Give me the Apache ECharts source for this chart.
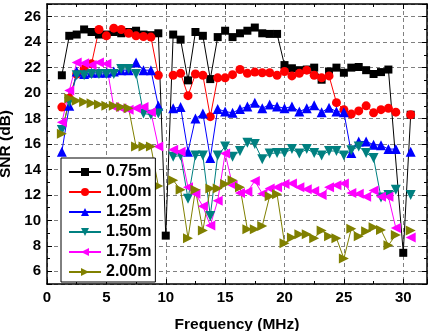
<!DOCTYPE html>
<html><head><meta charset="utf-8">
<script src="https://cdn.jsdelivr.net/npm/echarts@6/dist/echarts.min.js"></script>
<style>html,body{margin:0;padding:0;background:#fff}#c{width:429px;height:331px}</style>
</head><body><div id="c"></div>
<script>
// Frequency points (MHz)
const freq = [1.25,1.875,2.5,3.125,3.75,4.375,5,5.625,6.25,6.875,7.5,8.125,8.75,9.375,10,10.625,
  11.25,11.875,12.5,13.125,13.75,14.375,15,15.625,16.25,16.875,17.5,18.125,18.75,19.375,20,20.625,
  21.25,21.875,22.5,23.125,23.75,24.375,25,25.625,26.25,26.875,27.5,28.125,28.75,29.375,30,30.625];

// SNR (dB) per distance; null = no point
const s075 = [21.4,24.5,24.6,25.0,24.8,24.6,24.6,24.8,24.7,24.8,24.9,24.6,24.55,24.7,8.8,24.6,
  24.2,21.0,24.8,24.5,21.1,24.4,24.9,24.4,24.7,24.9,25.15,24.7,24.65,24.65,22.2,21.95,
  21.8,21.85,22.0,21.05,21.7,22.0,21.6,22.0,22.05,21.8,21.5,21.65,21.85,null,7.45,18.3];
const s100 = [18.9,19.6,21.5,21.9,22.3,25.0,24.5,25.1,25.0,24.7,24.5,24.45,24.4,21.4,null,21.4,
  21.55,19.8,21.5,21.4,18.15,21.2,21.2,21.45,21.85,21.55,21.65,21.6,21.6,21.4,21.7,21.35,
  21.55,21.8,21.4,21.2,21.35,19.25,18.7,18.35,18.6,19.0,18.45,18.7,18.8,18.5,null,18.3];
const s125 = [15.4,19.0,21.7,21.5,21.6,21.6,21.6,21.7,21.8,21.8,22.4,21.8,21.8,19.0,null,18.8,
  18.9,15.4,18.0,18.4,14.9,18.75,18.55,18.45,18.75,18.95,19.25,18.8,19.1,18.95,18.8,18.95,
  18.55,18.8,19.05,18.5,18.85,18.55,18.5,15.3,16.2,16.2,15.95,15.9,15.6,15.6,null,15.4];
const s150 = [17.1,19.3,21.4,21.4,21.5,21.5,21.5,21.5,21.9,21.9,21.5,18.4,18.3,18.4,null,15.0,
  15.1,11.7,15.1,15.1,10.35,15.1,15.8,15.0,15.45,16.1,16.0,14.8,15.25,15.3,15.3,15.6,
  15.25,15.6,15.3,15.1,15.45,15.45,15.1,15.5,15.8,15.3,14.9,11.8,12.0,12.4,null,12.0];
const s175 = [17.7,20.2,22.4,22.35,22.2,22.4,22.3,18.9,18.8,18.7,18.8,18.9,18.5,15.8,null,15.55,
  15.4,12.6,12.1,11.1,9.6,11.55,15.25,12.75,12.15,12.25,13.1,12.1,12.5,12.6,12.85,12.9,
  12.6,12.45,12.3,12.0,12.6,12.75,12.9,12.15,12.1,11.85,12.35,11.85,11.85,9.4,null,8.65];
const s200 = [16.8,19.6,19.4,19.3,19.2,19.1,19.0,19.0,18.9,18.8,15.8,15.8,15.8,12.7,null,13.15,
  12.4,8.6,12.4,9.2,12.5,12.5,12.85,13.15,12.6,9.3,9.3,9.55,11.9,12.05,8.2,8.65,
  8.9,8.9,8.6,9.2,8.75,8.6,7.0,9.35,8.75,9.15,9.45,9.25,8.05,8.85,null,9.2];

const seriesNames = ['0.75m','1.00m','1.25m','1.50m','1.75m','2.00m'];
const xTickLabels = [0,5,10,15,20,25,30];
const yTickLabels = [6,8,10,12,14,16,18,20,22,24,26];

const font = 'Liberation Sans, Arial, sans-serif';
const pairs = arr => freq.map((f,i) => [f, arr[i] === null ? '-' : arr[i]]);

const styles = [
  {color:'#000000', symbol:'rect', size:8, rot:0},
  {color:'#FF0000', symbol:'circle', size:9, rot:0},
  {color:'#0000FF', symbol:'triangle', size:10, rot:0},
  {color:'#008080', symbol:'triangle', size:10, rot:180},
  {color:'#FF00FF', symbol:'triangle', size:10, rot:90},
  {color:'#808000', symbol:'triangle', size:10, rot:-90}
];
const allData = [s075,s100,s125,s150,s175,s200];

const axisLineStyle = {color:'#000', width:1.5};
const labelStyle = {fontSize:15, fontWeight:'bold', color:'#000', fontFamily:font};

function xAx(pos, main){
  return {
    type:'value', min:0, max:32, minInterval:5, maxInterval:5, position:pos,
    axisLine:{show:true, onZero:false, lineStyle:axisLineStyle},
    axisTick:{show:true, inside:true, length:5, lineStyle:{color:'#000', width:1}},
    minorTick:{show:true, splitNumber:2, length:3, lineStyle:{color:'#000', width:1}},
    axisLabel:{show:main, margin:6, ...labelStyle, formatter: v => xTickLabels.includes(v) ? String(v) : ''},
    splitLine:{show:main, lineStyle:{type:[4,3], color:'#808080', width:1}},
    name: main ? 'Frequency (MHz)' : '', nameLocation:'middle', nameGap:33,
    nameTextStyle:{fontSize:15.5, fontWeight:'bold', color:'#000', fontFamily:font}
  };
}
function yAx(pos, main){
  return {
    type:'value', min:5, max:27, minInterval:2, maxInterval:2, position:pos,
    axisLine:{show:true, onZero:false, lineStyle:axisLineStyle},
    axisTick:{show:true, inside:true, length:5, lineStyle:{color:'#000', width:1}},
    minorTick:{show:true, splitNumber:2, length:3, lineStyle:{color:'#000', width:1}},
    axisLabel:{show:main, margin:6, ...labelStyle, formatter: v => yTickLabels.includes(v) ? String(v) : ''},
    splitLine:{show:main, lineStyle:{type:[4,3], color:'#808080', width:1}},
    name: main ? 'SNR (dB)' : '', nameLocation:'middle', nameGap:25,
    nameTextStyle:{fontSize:15.5, fontWeight:'bold', color:'#000', fontFamily:font}
  };
}

const chart = echarts.init(document.getElementById('c'), null, {renderer:'canvas'});
chart.setOption({
  animation:false,
  backgroundColor:'#fff',
  grid:{left:47, right:2, top:4, bottom:47, containLabel:false, outerBoundsMode:'none'},
  xAxis:[xAx('bottom', true), xAx('top', false)],
  yAxis:[yAx('left', true), yAx('right', false)],
  legend:{
    orient:'vertical', left:61, top:158, itemWidth:32, itemHeight:10, itemGap:4,
    padding:[6,4,2,7], backgroundColor:'#fff', borderColor:'#000', borderWidth:1, borderRadius:0,
    textStyle:{fontSize:16, fontWeight:'bold', color:'#000', fontFamily:font, lineHeight:16},
    data: seriesNames
  },
  series: allData.map((d,k) => ({
    name: seriesNames[k], type:'line', xAxisIndex:0, yAxisIndex:0,
    data: pairs(d), connectNulls: k === 0,
    symbol: styles[k].symbol, symbolSize: styles[k].size, symbolRotate: styles[k].rot,
    showAllSymbol:true,
    itemStyle:{color:styles[k].color, borderWidth:0},
    lineStyle:{color:styles[k].color, width:1}
  }))
});
</script></body></html>
